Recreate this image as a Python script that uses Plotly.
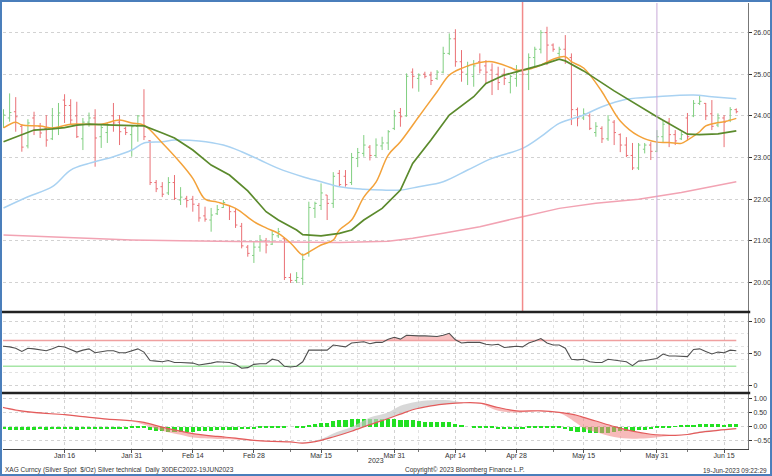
import pandas as pd
import numpy as np
import plotly.graph_objects as go
from plotly.subplots import make_subplots

# trading days shown on the chart (weekdays 30 Dec 2022 - 19 Jun 2023)
dates = pd.bdate_range("2022-12-30", "2023-06-19")

# daily OHLC bars, Dec / Jan / Feb / Mar / Apr / May / Jun
opens = [23.80,
         23.85, 23.95, 24.10, 23.75, 23.28, 23.95, 23.75, 23.70, 23.45, 23.72, 24.38, 24.25, 24.00, 23.45, 23.85, 23.95, 23.50, 23.60, 24.00, 23.85, 23.70, 23.55,
         23.75, 24.00, 23.40, 22.40, 22.30, 22.15, 22.40, 21.98, 22.02, 22.00, 21.85, 21.60, 21.50, 21.65, 21.80, 21.85, 21.70, 21.35, 20.85, 20.65,
         20.85, 21.00, 20.92, 21.12, 21.05, 20.12, 20.05, 20.10, 20.70, 21.78, 21.85, 22.10, 21.90, 22.62, 22.55, 22.40, 22.98, 23.10, 23.25, 23.05, 23.28, 23.35, 23.70,
         24.08, 24.00, 25.05, 24.90, 25.00, 24.98, 24.90, 25.05, 25.50, 25.85, 25.30, 25.00, 24.95, 25.30, 25.20, 25.10, 25.00, 25.00, 24.80, 24.90,
         25.08, 25.00, 25.40, 25.60, 26.00, 25.70, 25.50, 25.60, 25.40, 24.15, 23.95, 24.00, 23.60, 23.70, 23.45, 23.85, 23.55, 23.30, 23.05, 22.75, 23.20, 23.30, 23.15,
         23.50, 23.85, 23.55, 23.45, 23.95, 24.00, 24.30, 24.30, 24.05, 23.78, 23.95, 23.90, 24.15]
highs = [24.05,
         24.16, 24.54, 24.45, 23.80, 23.92, 24.10, 23.83, 24.02, 24.19, 24.31, 24.52, 24.40, 24.34, 23.95, 24.08, 24.16, 23.78, 23.83, 24.31, 24.02, 23.74, 23.78,
         24.02, 24.64, 23.42, 22.46, 22.41, 22.53, 22.58, 22.29, 22.08, 22.08, 21.91, 21.82, 21.79, 21.86, 21.98, 21.86, 21.79, 21.43, 20.90, 20.98,
         21.14, 21.07, 21.26, 21.31, 21.09, 20.22, 20.25, 20.70, 21.94, 21.94, 22.38, 22.10, 22.65, 22.70, 22.70, 23.11, 23.23, 23.54, 23.30, 23.46, 23.50, 23.66, 24.14,
         24.19, 25.02, 25.14, 25.02, 25.06, 25.06, 25.10, 25.66, 25.98, 26.08, 25.58, 25.30, 25.34, 25.50, 25.34, 25.26, 25.18, 25.14, 24.98, 25.22,
         25.10, 25.50, 25.66, 26.06, 26.14, 25.74, 25.66, 25.94, 25.50, 24.20, 24.18, 24.06, 23.85, 23.75, 24.02, 23.90, 23.58, 23.49, 23.35, 23.35, 23.35, 23.37, 23.66,
         23.90, 23.95, 23.66, 23.62, 24.07, 24.38, 24.50, 24.31, 24.38, 24.06, 24.02, 24.21, 24.18]
lows = [23.70,
        23.71, 23.86, 23.62, 23.14, 23.22, 23.54, 23.47, 23.26, 23.42, 23.54, 23.83, 23.78, 23.47, 23.18, 23.74, 22.78, 23.23, 23.35, 23.62, 23.30, 23.54, 23.02,
        23.38, 23.42, 22.34, 22.17, 22.05, 22.10, 21.98, 21.86, 21.80, 21.70, 21.46, 21.46, 21.22, 21.62, 21.79, 21.50, 21.31, 20.82, 20.62, 20.47,
        20.74, 20.70, 20.90, 21.07, 20.06, 19.99, 19.99, 19.94, 20.62, 21.55, 21.74, 21.50, 21.79, 22.30, 22.30, 22.34, 22.77, 23.02, 22.93, 23.00, 23.18, 23.18, 23.66,
        23.74, 23.98, 24.66, 24.58, 24.90, 24.74, 24.86, 25.02, 25.46, 25.18, 24.82, 24.74, 24.70, 25.02, 24.78, 24.50, 24.62, 24.74, 24.54, 24.70,
        24.98, 24.62, 25.18, 25.50, 25.22, 25.54, 25.42, 25.25, 23.78, 23.75, 23.90, 23.66, 23.50, 23.35, 23.40, 23.30, 23.13, 23.01, 22.70, 22.70, 23.10, 22.94, 23.13,
        23.35, 23.25, 23.30, 23.42, 23.42, 23.97, 24.26, 23.90, 23.66, 23.73, 23.25, 23.85, 24.06]
closes = [23.95,
          24.02, 24.08, 23.98, 23.25, 23.83, 23.66, 23.59, 23.42, 23.72, 24.07, 24.25, 23.90, 23.50, 23.85, 23.95, 23.47, 23.72, 23.78, 23.83, 23.62, 23.60, 23.74,
          24.00, 23.50, 22.40, 22.25, 22.12, 22.40, 22.02, 22.05, 21.97, 21.88, 21.55, 21.52, 21.62, 21.75, 21.92, 21.70, 21.38, 20.88, 20.70, 20.85,
          21.02, 20.90, 21.15, 21.22, 20.12, 20.05, 20.12, 20.55, 21.80, 21.90, 22.15, 21.90, 22.55, 22.35, 22.35, 23.00, 23.12, 23.30, 23.05, 23.30, 23.35, 23.62, 24.00,
          23.98, 24.95, 24.95, 24.98, 24.95, 24.85, 25.05, 25.50, 25.85, 25.30, 25.05, 25.20, 25.20, 25.10, 25.05, 24.85, 24.80, 24.90, 24.95, 25.05,
          25.00, 25.40, 25.60, 26.00, 25.70, 25.60, 25.60, 25.40, 24.15, 23.95, 24.05, 23.70, 23.75, 23.45, 23.90, 23.60, 23.30, 23.05, 22.75, 23.30, 23.30, 23.15, 23.50,
          23.80, 23.55, 23.40, 23.55, 23.50, 24.30, 24.35, 24.00, 23.75, 23.95, 23.85, 24.15, 24.10]

# moving averages, read at sample dates
ma_fast_dates = ["2023-01-02", "2023-01-04", "2023-01-05", "2023-01-10", "2023-01-12", "2023-01-17", "2023-01-24", "2023-01-27",
                 "2023-01-31", "2023-02-02", "2023-02-07", "2023-02-10", "2023-02-14", "2023-02-16", "2023-02-20", "2023-02-23",
                 "2023-02-28", "2023-03-02", "2023-03-06", "2023-03-08", "2023-03-10", "2023-03-13", "2023-03-15", "2023-03-17",
                 "2023-03-20", "2023-03-22", "2023-03-24", "2023-03-28", "2023-03-30", "2023-04-03", "2023-04-06", "2023-04-11",
                 "2023-04-13", "2023-04-17", "2023-04-20", "2023-04-24", "2023-04-27", "2023-04-28", "2023-05-02", "2023-05-04",
                 "2023-05-08", "2023-05-10", "2023-05-11", "2023-05-15", "2023-05-18", "2023-05-19", "2023-05-23", "2023-05-26",
                 "2023-05-31", "2023-06-02", "2023-06-06", "2023-06-07", "2023-06-09", "2023-06-12", "2023-06-14", "2023-06-15",
                 "2023-06-19"]
ma_fast = [23.71, 23.85, 23.78, 23.76, 23.71, 23.80, 23.80, 23.90,
           23.83, 23.78, 23.35, 22.87, 22.50, 22.00, 21.93, 21.78,
           21.46, 21.31, 21.18, 20.95, 20.66, 20.73, 20.90, 21.02,
           21.26, 21.50, 22.05, 22.41, 23.06, 23.38, 23.98, 24.58,
           24.98, 25.14, 25.28, 25.30, 25.16, 25.10, 25.12, 25.22,
           25.36, 25.42, 25.30, 25.15, 24.58, 24.34, 23.88, 23.52,
           23.37, 23.36, 23.34, 23.42, 23.62, 23.76, 23.84, 23.86,
           23.94]

ma_mid_dates = ["2023-01-02", "2023-01-05", "2023-01-09", "2023-01-12", "2023-01-16", "2023-01-18", "2023-01-20", "2023-01-26",
                "2023-01-31", "2023-02-02", "2023-02-07", "2023-02-09", "2023-02-14", "2023-02-17", "2023-02-22", "2023-02-27",
                "2023-03-02", "2023-03-06", "2023-03-09", "2023-03-10", "2023-03-15", "2023-03-20", "2023-03-22", "2023-03-24",
                "2023-03-29", "2023-03-31", "2023-04-03", "2023-04-05", "2023-04-10", "2023-04-13", "2023-04-19", "2023-04-21",
                "2023-04-26", "2023-05-01", "2023-05-04", "2023-05-09", "2023-05-10", "2023-05-15", "2023-05-22", "2023-05-31",
                "2023-06-07", "2023-06-09", "2023-06-14", "2023-06-19"]
ma_mid = [23.38, 23.54, 23.66, 23.69, 23.72, 23.78, 23.80, 23.78,
          23.76, 23.76, 23.59, 23.47, 23.18, 22.82, 22.58, 22.20,
          21.70, 21.50, 21.26, 21.15, 21.12, 21.18, 21.26, 21.50,
          21.78, 22.06, 22.22, 22.86, 23.42, 24.02, 24.46, 24.78,
          24.98, 25.10, 25.22, 25.36, 25.32, 25.08, 24.60, 23.98,
          23.56, 23.55, 23.57, 23.64]

ma_slow_dates = ["2023-01-02", "2023-01-06", "2023-01-12", "2023-01-17", "2023-01-20", "2023-01-26", "2023-01-31", "2023-02-02",
                 "2023-02-07", "2023-02-09", "2023-02-15", "2023-02-21", "2023-02-24", "2023-03-01", "2023-03-06", "2023-03-10",
                 "2023-03-15", "2023-03-20", "2023-03-24", "2023-03-29", "2023-04-03", "2023-04-06", "2023-04-12", "2023-04-18",
                 "2023-04-24", "2023-05-01", "2023-05-04", "2023-05-09", "2023-05-15", "2023-05-18", "2023-05-24", "2023-05-31",
                 "2023-06-08", "2023-06-13", "2023-06-19"]
ma_slow = [21.79, 22.06, 22.30, 22.70, 22.86, 23.02, 23.18, 23.35,
           23.38, 23.42, 23.40, 23.30, 23.14, 22.94, 22.74, 22.54,
           22.42, 22.30, 22.24, 22.22, 22.22, 22.30, 22.42, 22.70,
           22.98, 23.22, 23.50, 23.82, 24.02, 24.22, 24.40, 24.46,
           24.50, 24.46, 24.41]

ma_long_dates = ["2023-01-02", "2023-01-12", "2023-01-24", "2023-01-31", "2023-02-10", "2023-02-27", "2023-03-10", "2023-03-20",
                 "2023-03-30", "2023-04-05", "2023-04-12", "2023-04-20", "2023-05-01", "2023-05-09", "2023-05-17", "2023-05-26",
                 "2023-06-06", "2023-06-13", "2023-06-19"]
ma_long = [21.14, 21.10, 21.06, 21.02, 21.00, 20.98, 20.96, 20.96,
           20.99, 21.06, 21.18, 21.34, 21.58, 21.78, 21.90, 22.00,
           22.16, 22.30, 22.42]

# RSI, daily
rsi = [60,
       61, 60, 58, 53, 58, 57, 55, 54, 57, 61, 60, 56, 52, 55, 57, 51, 53, 54, 54, 51, 51, 54,
       57, 52, 39, 38, 37, 39, 36, 36, 36, 35, 32, 33, 35, 37, 37, 36, 33, 27, 28, 33,
       34, 34, 41, 39, 30, 29, 30, 37, 55, 55, 56, 55, 63, 61, 60, 66, 67, 68, 65, 67, 67, 72, 75,
       72, 78, 77, 77, 77, 76, 76, 78, 81, 71, 66, 67, 67, 67, 64, 63, 64, 59, 60, 61,
       60, 66, 69, 73, 66, 63, 63, 58, 41, 40, 41, 37, 36, 36, 41, 40, 38, 37, 31, 38, 39, 40, 42,
       49, 46, 46, 46, 45, 56, 57, 53, 49, 52, 51, 55, 54]

# MACD histogram, daily
macd_hist = [-0.10,
             -0.10, -0.11, -0.11, -0.12, -0.11, -0.11, -0.10, -0.11, -0.10, -0.10, -0.10, -0.10, -0.11, -0.10, -0.09, -0.10, -0.10, -0.09, -0.09, -0.09, -0.08, -0.07,
             -0.05, -0.06, -0.12, -0.16, -0.18, -0.19, -0.20, -0.19, -0.19, -0.19, -0.18, -0.17, -0.15, -0.13, -0.11, -0.11, -0.11, -0.10, -0.10, -0.09,
             -0.07, -0.05, -0.04, -0.02, -0.02, 0.0, -0.02, -0.02, 0.05, 0.08, 0.12, 0.14, 0.20, 0.22, 0.24, 0.26, 0.27, 0.28, 0.27, 0.27, 0.26, 0.27, 0.26,
             0.24, 0.25, 0.22, 0.20, 0.18, 0.17, 0.16, 0.15, 0.15, 0.10, 0.04, 0.0, -0.02, -0.05, -0.06, -0.07, -0.08, -0.09, -0.09, -0.08,
             -0.08, -0.06, -0.04, -0.02, -0.03, -0.03, -0.04, -0.08, -0.15, -0.19, -0.21, -0.23, -0.24, -0.25, -0.22, -0.20, -0.18, -0.17, -0.17, -0.14, -0.12, -0.10, -0.07,
             -0.04, -0.02, -0.01, 0.02, 0.02, 0.06, 0.10, 0.10, 0.09, 0.08, 0.07, 0.08, 0.08]

# MACD signal (red line) and MACD (band edge) at sample dates
macd_dates = ["2022-12-30", "2023-01-02", "2023-01-04", "2023-01-09", "2023-01-16", "2023-01-19", "2023-01-25", "2023-01-31",
              "2023-02-02", "2023-02-07", "2023-02-10", "2023-02-14", "2023-02-20", "2023-02-23", "2023-02-28", "2023-03-03",
              "2023-03-08", "2023-03-10", "2023-03-15", "2023-03-17", "2023-03-22", "2023-03-27", "2023-03-30", "2023-04-03",
              "2023-04-05", "2023-04-10", "2023-04-13", "2023-04-17", "2023-04-20", "2023-04-25", "2023-04-28", "2023-05-04",
              "2023-05-09", "2023-05-12", "2023-05-15", "2023-05-17", "2023-05-22", "2023-05-25", "2023-05-30", "2023-06-01",
              "2023-06-05", "2023-06-07", "2023-06-09", "2023-06-14", "2023-06-19"]
macd_signal = [0.72, 0.69, 0.60, 0.51, 0.43, 0.36, 0.27, 0.21,
               0.15, -0.02, -0.17, -0.26, -0.36, -0.42, -0.50, -0.54,
               -0.56, -0.60, -0.50, -0.38, -0.17, 0.07, 0.29, 0.45,
               0.61, 0.75, 0.83, 0.86, 0.85, 0.69, 0.57, 0.57,
               0.51, 0.40, 0.33, 0.20, 0.00, -0.17, -0.28, -0.31,
               -0.32, -0.29, -0.21, -0.14, -0.08]
macd_line = [0.70, 0.66, 0.56, 0.48, 0.42, 0.35, 0.26, 0.19,
             0.06, -0.15, -0.30, -0.40, -0.45, -0.47, -0.52, -0.55,
             -0.56, -0.58, -0.45, -0.25, -0.02, 0.33, 0.51, 0.75,
             0.87, 0.95, 0.95, 0.88, 0.84, 0.57, 0.51, 0.55,
             0.50, 0.10, -0.05, -0.20, -0.38, -0.44, -0.42, -0.36,
             -0.33, -0.27, -0.18, -0.11, -0.06]

tick_dates = ["2023-01-16", "2023-01-31", "2023-02-14", "2023-02-28", "2023-03-15", "2023-03-31",
              "2023-04-14", "2023-04-28", "2023-05-15", "2023-05-31", "2023-06-15"]
tick_labels = ["Jan 16", "Jan 31", "Feb 14", "Feb 28", "Mar 15", "Mar 31",
               "Apr 14", "Apr 28", "May 15", "May 31", "Jun 15"]
minor_dates = ["2023-01-23", "2023-02-07", "2023-02-21", "2023-03-08", "2023-03-23", "2023-04-06",
               "2023-04-21", "2023-05-08", "2023-05-23", "2023-06-07"]

FONT = "Arial, Liberation Sans, sans-serif"
GRID = "#d2d2d2"

fig = make_subplots(rows=3, cols=1, shared_xaxes=True, vertical_spacing=0.0)

# ---------------- main price panel
fig.add_trace(go.Scatter(x=ma_long_dates, y=ma_long, mode="lines", line=dict(color="#f2a3b3", width=1.5),
                         hoverinfo="skip", showlegend=False), row=1, col=1)
fig.add_trace(go.Scatter(x=ma_slow_dates, y=ma_slow, mode="lines", line=dict(color="#a9d2f2", width=1.5, shape="spline"),
                         hoverinfo="skip", showlegend=False), row=1, col=1)
fig.add_trace(go.Ohlc(x=dates, open=opens, high=highs, low=lows, close=closes,
                      increasing=dict(line=dict(color="#80cf80", width=1)),
                      decreasing=dict(line=dict(color="#ea7075", width=1)),
                      tickwidth=0.3, showlegend=False, hoverinfo="skip"), row=1, col=1)
fig.add_trace(go.Scatter(x=ma_fast_dates, y=ma_fast, mode="lines", line=dict(color="#f3a23a", width=1.5, shape="spline"),
                         hoverinfo="skip", showlegend=False), row=1, col=1)
fig.add_trace(go.Scatter(x=ma_mid_dates, y=ma_mid, mode="lines", line=dict(color="#5b8a2c", width=1.7),
                         hoverinfo="skip", showlegend=False), row=1, col=1)

# ---------------- RSI panel
n = len(dates)
rsi_arr = np.array(rsi, dtype=float)
fig.add_trace(go.Scatter(x=dates, y=[70] * n, mode="lines", line=dict(color="#f0a0a0", width=1.5),
                         hoverinfo="skip", showlegend=False), row=2, col=1)
fig.add_trace(go.Scatter(x=dates, y=np.maximum(rsi_arr, 70), mode="lines", line=dict(width=0),
                         fill="tonexty", fillcolor="rgba(240,120,120,0.45)", hoverinfo="skip", showlegend=False), row=2, col=1)
fig.add_trace(go.Scatter(x=dates, y=[30] * n, mode="lines", line=dict(color="#a6e6a6", width=1.5),
                         hoverinfo="skip", showlegend=False), row=2, col=1)
fig.add_trace(go.Scatter(x=dates, y=np.minimum(rsi_arr, 30), mode="lines", line=dict(width=0),
                         fill="tonexty", fillcolor="rgba(120,220,120,0.45)", hoverinfo="skip", showlegend=False), row=2, col=1)
fig.add_trace(go.Scatter(x=dates, y=rsi, mode="lines", line=dict(color="#505050", width=1.1),
                         hoverinfo="skip", showlegend=False), row=2, col=1)

# ---------------- MACD panel
sig = np.array(macd_signal)
mac = np.array(macd_line)
fig.add_trace(go.Bar(x=dates, y=macd_hist, marker=dict(color="#22e022", line=dict(width=0)),
                     width=0.68 * 86400000, hoverinfo="skip", showlegend=False), row=3, col=1)
fig.add_trace(go.Scatter(x=macd_dates, y=sig, mode="lines", line=dict(width=0, shape="spline"),
                         hoverinfo="skip", showlegend=False), row=3, col=1)
fig.add_trace(go.Scatter(x=macd_dates, y=np.minimum(mac, sig), mode="lines", line=dict(width=0, shape="spline"),
                         fill="tonexty", fillcolor="rgba(240,130,130,0.55)", hoverinfo="skip", showlegend=False), row=3, col=1)
fig.add_trace(go.Scatter(x=macd_dates, y=sig, mode="lines", line=dict(width=0, shape="spline"),
                         hoverinfo="skip", showlegend=False), row=3, col=1)
fig.add_trace(go.Scatter(x=macd_dates, y=np.maximum(mac, sig), mode="lines", line=dict(width=0, shape="spline"),
                         fill="tonexty", fillcolor="rgba(200,200,200,0.7)", hoverinfo="skip", showlegend=False), row=3, col=1)
fig.add_trace(go.Scatter(x=macd_dates, y=sig, mode="lines", line=dict(color="#e35b5b", width=1.2, shape="spline"),
                         hoverinfo="skip", showlegend=False), row=3, col=1)

# ---------------- axes
fig.update_xaxes(range=["2022-12-30 22:00", "2023-06-20 22:00"],
                 rangebreaks=[dict(bounds=["sat", "mon"])],
                 rangeslider=dict(visible=False),
                 automargin=False,
                 tickvals=tick_dates, ticktext=tick_labels,
                 tickfont=dict(size=7, color="#333", family=FONT),
                 ticks="outside", ticklen=3, tickcolor="#555", ticklabelstandoff=-3,
                 showgrid=True, gridcolor=GRID, griddash="dot", gridwidth=1,
                 minor=dict(tickvals=minor_dates, ticks="outside", ticklen=2, tickcolor="#777",
                            showgrid=True, gridcolor="#e2e2e2", griddash="dot"),
                 zeroline=False)
fig.update_xaxes(showgrid=False, minor=dict(showgrid=False), ticks="", row=1, col=1)
fig.update_xaxes(showticklabels=False, ticks="", row=2, col=1)
fig.update_xaxes(showticklabels=True, showline=True, linecolor="#444", linewidth=1, row=3, col=1)

yax_common = dict(side="right", showline=True, linecolor="#777", linewidth=1, automargin=False,
                  ticks="outside", ticklen=3, tickcolor="#333",
                  tickfont=dict(size=7, color="#333", family=FONT),
                  showgrid=True, gridcolor=GRID, griddash="dot", gridwidth=1, zeroline=False)
fig.update_layout(
    yaxis=dict(domain=[0.3094, 1.0], range=[19.316, 26.71], tickvals=[20, 21, 22, 23, 24, 25, 26],
               tickformat=".2f", **yax_common),
    yaxis2=dict(domain=[0.1278, 0.3049], range=[-9.7, 112.4], tickvals=[0, 50, 100],
                minor=dict(tickvals=[20, 40, 60, 80], showgrid=True, gridcolor="#e2e2e2", griddash="dot"),
                **yax_common),
    yaxis3=dict(domain=[0.0, 0.1233], range=[-0.816, 1.18], tickvals=[-0.5, 0, 0.5, 1.0],
                tickformat=".2f", **yax_common),
)

# ---------------- shapes: event lines, panel separators, outer frame
shapes = [
    dict(type="line", xref="x", yref="y domain", x0="2023-05-01", x1="2023-05-01", y0=0, y1=1.01,
         line=dict(color="#f28a8a", width=1.5)),
    dict(type="line", xref="x", yref="y domain", x0="2023-05-31", x1="2023-05-31", y0=0, y1=1.0,
         line=dict(color="#c8aad8", width=1)),
    dict(type="line", xref="paper", yref="paper", x0=-0.004, x1=1.003, y0=0.3072, y1=0.3072,
         line=dict(color="#222", width=2.5)),
    dict(type="line", xref="paper", yref="paper", x0=-0.004, x1=1.003, y0=0.1256, y1=0.1256,
         line=dict(color="#222", width=2.5)),
    dict(type="rect", xref="paper", yref="paper", x0=-0.0027, x1=1.0309, y0=-0.0583, y1=1.0045,
         line=dict(color="#4a7ebb", width=2), fillcolor="rgba(0,0,0,0)"),
]

annotations = [
    dict(text="2023", x=0.5007, y=-0.0269, xref="paper", yref="paper", showarrow=False,
         xanchor="center", yanchor="middle", font=dict(size=7, color="#333", family=FONT)),
    dict(text="XAG Curncy (Silver Spot  $/Oz) Silver technical  Daily 30DEC2022-19JUN2023",
         x=0.0, y=-0.0471, xref="paper", yref="paper", showarrow=False,
         xanchor="left", yanchor="middle", font=dict(size=6.5, color="#333", family=FONT)),
    dict(text="Copyright\u00a9 2023 Bloomberg Finance L.P.", x=0.62, y=-0.0471, xref="paper", yref="paper",
         showarrow=False, xanchor="center", yanchor="middle", font=dict(size=6.5, color="#333", family=FONT)),
    dict(text="19-Jun-2023 09:22:29", x=1.028, y=-0.0471, xref="paper", yref="paper", showarrow=False,
         xanchor="right", yanchor="middle", font=dict(size=6.5, color="#333", family=FONT)),
]

fig.update_layout(
    width=772, height=476,
    margin=dict(l=3, r=24, t=3, b=27, autoexpand=False),
    paper_bgcolor="white", plot_bgcolor="white",
    bargap=0, showlegend=False,
    shapes=shapes, annotations=annotations,
    font=dict(family=FONT, size=7, color="#333"),
)

# the page's default body margin would push the chart off the window
fig.write_html("out.html", config={"displayModeBar": False},
               post_script="document.body.style.margin='0';document.body.style.overflow='hidden';")
